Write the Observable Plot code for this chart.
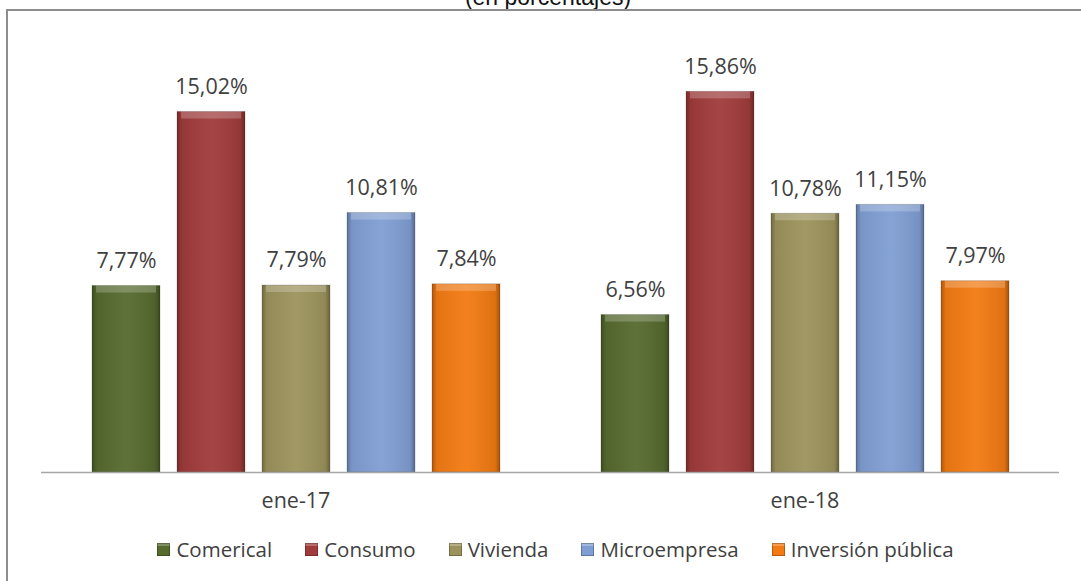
<!DOCTYPE html>
<html>
<head>
<meta charset="utf-8">
<script src="https://cdn.jsdelivr.net/npm/d3@7"></script>
<script src="https://cdn.jsdelivr.net/npm/@observablehq/plot@0.6"></script>
<style>
  body { margin: 0; background: #fff; }
  #wrap { position: relative; width: 1081px; height: 581px; overflow: hidden; font-family: "Open Sans", sans-serif; }
  #frame { position: absolute; left: 6px; top: 9px; width: 1200px; height: 700px; border-left: 2px solid #8d8d8d; border-top: 2px solid #8d8d8d; box-sizing: border-box; }
  #title { position: absolute; top: -14px; left: 0; width: 1096px; text-align: center; font-family: "Liberation Sans", Arial, sans-serif; font-size: 23px; line-height: 23px; color: #111; }
  #chart { position: absolute; left: 0; top: 0; }
  #legend { position: absolute; top: 535px; left: 0; width: 1111px; display: flex; justify-content: center; gap: 33px; font-size: 20.5px; color: #404040; line-height: 28px; }
  .item { display: flex; align-items: center; gap: 6px; white-space: nowrap; }
  .sw { width: 13px; height: 13px; box-sizing: border-box; box-shadow: inset 0 0 0 1px rgba(0,0,0,0.25), inset 0 3px 0 rgba(255,255,255,0.25); }
</style>
</head>
<body>
<div id="wrap">
  <div id="title">(en porcentajes)</div>
  <div id="chart"></div>
  <div id="frame"></div>
  <div id="legend"></div>
</div>
<script>
const dates = ["ene-17", "ene-18"];
const categories = ["Comerical", "Consumo", "Vivienda", "Microempresa", "Inversión pública"];
const valuesEne17 = [7.77, 15.02, 7.79, 10.81, 7.84];
const valuesEne18 = [6.56, 15.86, 10.78, 11.15, 7.97];
const colors = ["#566a2e", "#a03b3b", "#9c935c", "#809ed3", "#f27a12"];

const seriesByDate = [valuesEne17, valuesEne18];
const data = dates.flatMap((d, i) => categories.map((c, j) => ({date: d, category: c, value: seriesByDate[i][j]})));
const fmt = v => v.toFixed(2).replace(".", ",") + "%";

const chart = Plot.plot({
  width: 1081,
  height: 520,
  marginLeft: 40,
  marginRight: 22,
  marginTop: 40,
  marginBottom: 48,
  fx: {domain: dates, padding: 0, axis: "bottom", tickSize: 0, tickPadding: 20, label: null, fontSize: 21},
  x: {domain: categories, paddingInner: 0.2, paddingOuter: 0.594, axis: null},
  y: {domain: [0, 18], axis: null},
  color: {domain: categories, range: colors},
  style: {fontFamily: "Open Sans, sans-serif", fontSize: "21.5px", color: "#404040", background: "transparent"},
  marks: [
    Plot.barY(data, {fx: "date", x: "category", y: "value", fill: "category"}),
    Plot.barY(data, {fx: "date", x: "category", y: "value", fill: "url(#shine)", stroke: "#000", strokeOpacity: 0.18}),
    Plot.barY(data, {fx: "date", x: "category", y1: "value", y2: "value", insetBottom: -7, insetLeft: 4, insetRight: 4, fill: "#fff", fillOpacity: 0.22}),
    Plot.ruleY([0], {stroke: "#a6a6a6", strokeWidth: 1.5}),
    Plot.text(data, {fx: "date", x: "category", y: "value", text: d => fmt(d.value), dy: -25, fill: "#404040", fontSize: 21.5})
  ]
});

const defs = d3.select(chart).insert("defs", ":first-child");
const g = defs.append("linearGradient").attr("id", "shine").attr("x1", 0).attr("x2", 1).attr("y1", 0).attr("y2", 0);
[[0, "#000", 0.28], [0.07, "#000", 0.06], [0.5, "#fff", 0.05], [0.93, "#000", 0.08], [1, "#000", 0.32]].forEach(([o, c, a]) =>
  g.append("stop").attr("offset", o).attr("stop-color", c).attr("stop-opacity", a));

document.getElementById("chart").append(chart);

const legend = document.getElementById("legend");
categories.forEach((c, i) => {
  const item = document.createElement("div");
  item.className = "item";
  const sw = document.createElement("span");
  sw.className = "sw";
  sw.style.background = colors[i];
  const lbl = document.createElement("span");
  lbl.textContent = c;
  item.append(sw, lbl);
  legend.append(item);
});
</script>
</body>
</html>
